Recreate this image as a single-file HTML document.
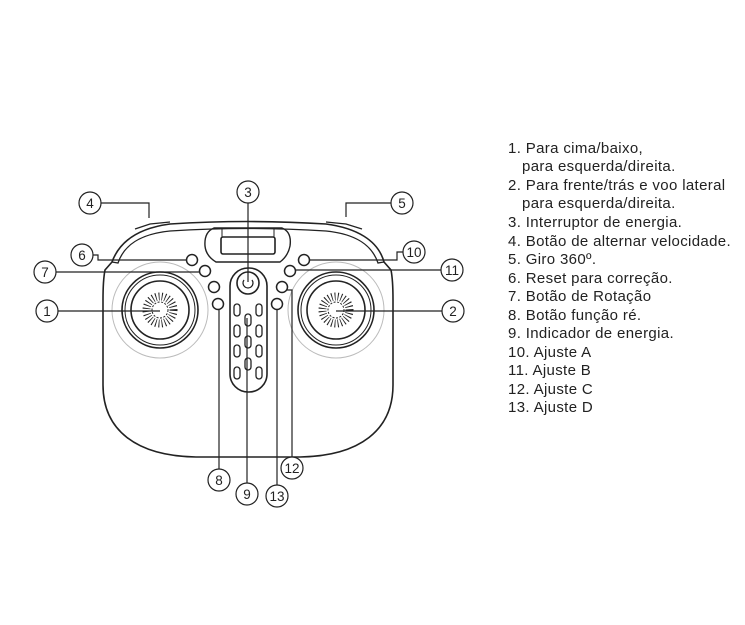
<!DOCTYPE html>
<html><head><meta charset="utf-8"><style>
body{margin:0;background:#fff;width:745px;height:625px;overflow:hidden}
svg{position:absolute;left:0;top:0}
.t{font-family:"Liberation Sans",sans-serif;font-size:15px;letter-spacing:0.35px;fill:#222}
.n{font-family:"Liberation Sans",sans-serif;font-size:13.5px;fill:#222;text-anchor:middle}
</style></head><body>
<svg width="745" height="625" viewBox="0 0 745 625">
<g fill="none" stroke="#222" stroke-width="1.6">
<path d="M112,262 C120,240 140,228 170,224 Q248,219 326,224 C356,228 378,240 384,262 L391,270 Q393,280 393,300 L393,385 C393,430 360,456 300,457 L196,457 C136,456 103,430 103,385 L103,300 Q103,280 105,270 Z"/>
<path d="M112,262 L118,263 C124,245 140,234 170,231 Q248,226 326,231 C356,234 372,245 378,263 L384,262" stroke-width="1.3"/>
<path d="M135,229 L150,224 L170,222" stroke-width="1.2"/>
<path d="M326,222 L346,224 L362,229" stroke-width="1.2"/>
<path d="M214,228 L282,228 Q292,232 290,246 Q288,256 280,262 L216,262 Q206,256 205,246 Q204,232 214,228 Z" stroke-width="1.4"/>
<rect x="221" y="237" width="54" height="17" rx="2"/>
<line x1="222" y1="228" x2="222" y2="237" stroke-width="1"/><line x1="274" y1="228" x2="274" y2="237" stroke-width="1"/>
<rect x="230" y="268" width="37" height="124" rx="18"/>
<circle cx="248" cy="283" r="11"/>
<path d="M244,280 A5,5 0 1 0 252,280" stroke-width="1.3"/>
<g stroke-width="1.3">
<rect x="234" y="304" width="6" height="12" rx="3"/><rect x="256" y="304" width="6" height="12" rx="3"/>
<rect x="234" y="325" width="6" height="12" rx="3"/><rect x="256" y="325" width="6" height="12" rx="3"/>
<rect x="234" y="345" width="6" height="12" rx="3"/><rect x="256" y="345" width="6" height="12" rx="3"/>
<rect x="234" y="367" width="6" height="12" rx="3"/><rect x="256" y="367" width="6" height="12" rx="3"/>
<rect x="245" y="314" width="6" height="12" rx="3"/><rect x="245" y="336" width="6" height="12" rx="3"/><rect x="245" y="358" width="6" height="12" rx="3"/>
</g>
<g stroke-width="1.5">
<circle cx="192" cy="260" r="5.5"/><circle cx="205" cy="271" r="5.5"/><circle cx="214" cy="287" r="5.5"/><circle cx="218" cy="304" r="5.5"/>
<circle cx="304" cy="260" r="5.5"/><circle cx="290" cy="271" r="5.5"/><circle cx="282" cy="287" r="5.5"/><circle cx="277" cy="304" r="5.5"/>
</g>
<g>
<circle cx="160" cy="310" r="48" stroke="#bbb" stroke-width="1"/>
<circle cx="160" cy="310" r="38"/><circle cx="160" cy="310" r="35" stroke-width="1"/>
<circle cx="160" cy="310" r="29"/><circle cx="160" cy="310" r="8" stroke-width="1" stroke-dasharray="2 1.5"/>
<circle cx="336" cy="310" r="48" stroke="#bbb" stroke-width="1"/>
<circle cx="336" cy="310" r="38"/><circle cx="336" cy="310" r="35" stroke-width="1"/>
<circle cx="336" cy="310" r="29"/><circle cx="336" cy="310" r="8" stroke-width="1" stroke-dasharray="2 1.5"/>
<circle cx="160" cy="310" r="13.5" stroke-width="8" stroke-dasharray="0.9 2.2"/>
<circle cx="336" cy="310" r="13.5" stroke-width="8" stroke-dasharray="0.9 2.2"/>
</g>
<g stroke-width="1.2">
<polyline points="101,203 149,203 149,218"/>
<polyline points="391,203 346,203 346,217"/>
<polyline points="93,255 98,255 98,260 186,260"/>
<line x1="56" y1="272" x2="199" y2="272"/>
<line x1="58" y1="311" x2="160" y2="311"/>
<line x1="442" y1="311" x2="336" y2="311"/>
<line x1="248" y1="203" x2="248" y2="282"/>
<polyline points="403,252 397,252 397,260 310,260"/>
<line x1="441" y1="270" x2="296" y2="270"/>
<line x1="219" y1="469" x2="219" y2="310"/>
<line x1="247" y1="483" x2="247" y2="318"/>
<line x1="277" y1="485" x2="277" y2="310"/>
<polyline points="292,457 292,290 287,290"/>
</g>
<g stroke-width="1.2" fill="#fff">
<circle cx="47" cy="311" r="11"/><circle cx="453" cy="311" r="11"/><circle cx="248" cy="192" r="11"/>
<circle cx="90" cy="203" r="11"/><circle cx="402" cy="203" r="11"/><circle cx="82" cy="255" r="11"/>
<circle cx="45" cy="272" r="11"/><circle cx="414" cy="252" r="11"/><circle cx="452" cy="270" r="11"/>
<circle cx="219" cy="480" r="11"/><circle cx="247" cy="494" r="11"/><circle cx="292" cy="468" r="11"/><circle cx="277" cy="496" r="11"/>
</g>
</g>
<g class="n">
<text x="47" y="316">1</text><text x="453" y="316">2</text><text x="248" y="197">3</text>
<text x="90" y="208">4</text><text x="402" y="208">5</text><text x="82" y="260">6</text>
<text x="45" y="277">7</text><text x="414" y="257">10</text><text x="452" y="275">11</text>
<text x="219" y="485">8</text><text x="247" y="499">9</text><text x="292" y="473">12</text><text x="277" y="501">13</text>
</g>
<g class="t">
<text x="508" y="153">1. Para cima/baixo,</text>
<text x="522" y="171">para esquerda/direita.</text>
<text x="508" y="190">2. Para frente/trás e voo lateral</text>
<text x="522" y="208">para esquerda/direita.</text>
<text x="508" y="227">3. Interruptor de energia.</text>
<text x="508" y="246">4. Botão de alternar velocidade.</text>
<text x="508" y="264">5. Giro 360º.</text>
<text x="508" y="283">6. Reset para correção.</text>
<text x="508" y="301">7. Botão de Rotação</text>
<text x="508" y="320">8. Botão função ré.</text>
<text x="508" y="338">9. Indicador de energia.</text>
<text x="508" y="357">10. Ajuste A</text>
<text x="508" y="375">11. Ajuste B</text>
<text x="508" y="394">12. Ajuste C</text>
<text x="508" y="412">13. Ajuste D</text>
</g>
</svg>
</body></html>
